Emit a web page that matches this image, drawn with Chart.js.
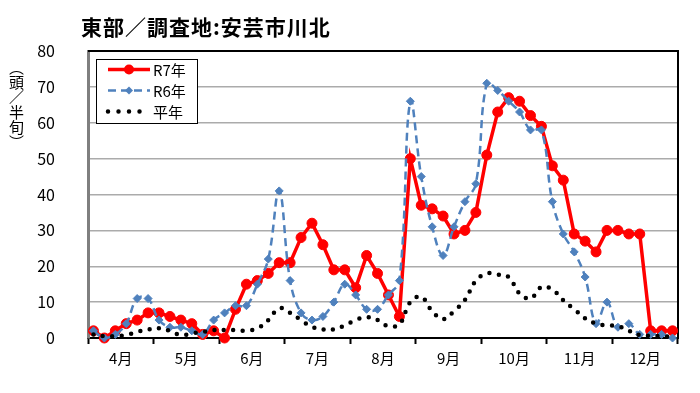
<!DOCTYPE html>
<html lang="ja">
<head>
<meta charset="utf-8">
<script src="https://cdn.jsdelivr.net/npm/chart.js@4/dist/chart.umd.min.js"></script>
<style>
  html, body { margin: 0; padding: 0; background: #fff; }
  #wrap { position: relative; width: 700px; height: 393px; overflow: hidden; }
  #title {
    position: absolute; left: 81px; top: 11px; letter-spacing: 1px;
    font: bold 21px "Noto Sans CJK JP", sans-serif; color: #000; white-space: nowrap;
  }
  #ylab {
    position: absolute; left: 6px; top: 60px;
    writing-mode: vertical-rl; font: 15px "Noto Sans CJK JP", sans-serif; color: #000;
  }
  canvas { position: absolute; left: 0; top: 0; }
</style>
</head>
<body>
<div id="wrap">
  <canvas id="chart" width="700" height="393"></canvas>
  <div id="title">東部／調査地:安芸市川北</div>
  <div id="ylab">（頭／半旬）</div>
</div>
<script>
"use strict"

// 4月〜12月, 1ヶ月6半旬
var months = ['4月', '5月', '6月', '7月', '8月', '9月', '10月', '11月', '12月']
var halves = [1, 2, 3, 4, 5, 6]
var seriesNames = ['R7年', 'R6年', '平年']

var r7Values = [2, 0, 2, 4, 5, 7, 7, 6, 5, 4, 1, 2,
    0, 8, 15, 16, 18, 21, 21, 28, 32, 26, 19, 19,
    14, 23, 18, 12, 6, 50, 37, 36, 34, 29, 30, 35,
    51, 63, 67, 66, 62, 59, 48, 44, 29, 27, 24, 30,
    30, 29, 29, 2, 2, 2]
var r6Values = [2, 0, 1, 4, 11, 11, 5, 3, 3, 2, 1, 5,
    7, 9, 9, 15, 22, 41, 16, 7, 5, 6, 10, 15,
    12, 8, 8, 12, 16, 66, 45, 31, 23, 31, 38, 43,
    71, 69, 66, 63, 58, 58, 38, 29, 24, 17, 4, 10,
    3, 4, 1, 1, 1, 0]
var avgValues = [1, 0.5, 0.5, 0.8, 1.7, 2.4, 2.7, 2, 0.8, 1.3, 1.7, 2.2,
    2.2, 2.2, 2, 2.7, 5, 8.3, 7, 5, 3.1, 2.4, 2.4, 3.5,
    5, 5.8, 5, 3.3, 3.8, 10, 11.5, 7.5, 5.3, 7.5, 10.6, 16,
    18, 17.7, 17, 12.4, 11, 14.2, 13.5, 10.5, 8, 5.5, 4, 3.5,
    3.3, 2, 0.8, 0.6, 0.5, 0.4]

var categories = []
months.forEach(function (m) {
    halves.forEach(function (h) { categories.push(m + h) })
})

var font = '"Noto Sans CJK JP", "Liberation Sans", sans-serif'

// plot area frame (top / right)
var frame = {
    id: 'frame',
    beforeDatasetsDraw: function (chart) {
        var ctx = chart.ctx, a = chart.chartArea
        ctx.save()
        ctx.strokeStyle = '#000'
        ctx.lineWidth = 2
        ctx.beginPath()
        ctx.moveTo(a.left, a.top)
        ctx.lineTo(a.right, a.top)
        ctx.lineTo(a.right, a.bottom)
        ctx.stroke()
        ctx.restore()
    }
}

// legend box like the original
var legendBox = {
    id: 'legendBox',
    afterDraw: function (chart) {
        var ctx = chart.ctx
        var x0 = 96, y0 = 59, w = 101, h = 64
        ctx.save()
        ctx.fillStyle = '#fff'
        ctx.fillRect(x0, y0, w, h)
        ctx.strokeStyle = '#000'
        ctx.lineWidth = 1
        ctx.strokeRect(x0 + 0.5, y0 + 0.5, w, h)
        var rows = [69.5, 90.5, 111.5]
        chart.data.datasets.forEach(function (ds, i) {
            var y = rows[i]
            ctx.save()
            ctx.strokeStyle = ds.borderColor
            ctx.lineWidth = ds.borderWidth
            ctx.lineCap = ds.borderCapStyle || 'butt'
            ctx.setLineDash(i === 2 ? [0, 10.5] : (ds.borderDash || []))
            ctx.beginPath()
            ctx.moveTo(108, y)
            ctx.lineTo(150, y)
            ctx.stroke()
            ctx.setLineDash([])
            ctx.fillStyle = ds.pointBackgroundColor
            if (ds.pointStyle === 'circle' && ds.pointRadius > 0) {
                ctx.beginPath()
                ctx.arc(129, y, ds.pointRadius, 0, Math.PI * 2)
                ctx.fill()
            } else if (ds.pointStyle === 'rectRot' && ds.pointRadius > 0) {
                var r = ds.pointRadius
                ctx.beginPath()
                ctx.moveTo(129, y - r)
                ctx.lineTo(129 + r, y)
                ctx.lineTo(129, y + r)
                ctx.lineTo(129 - r, y)
                ctx.closePath()
                ctx.fill()
            }
            ctx.restore()
            ctx.fillStyle = '#000'
            ctx.font = '15px ' + font
            ctx.textBaseline = 'middle'
            ctx.fillText(ds.label, 153, y + 1)
        })
        ctx.restore()
    }
}

var ctx = document.getElementById('chart').getContext('2d')
var chart = new Chart(ctx, {
    type: 'line',
    data: {
        labels: categories,
        datasets: [{
            label: seriesNames[0],
            data: r7Values,
            borderColor: '#ff0000',
            backgroundColor: '#ff0000',
            borderWidth: 3.5,
            pointStyle: 'circle',
            pointRadius: 5,
            pointBackgroundColor: '#ff0000',
            pointBorderColor: '#ff0000',
            pointBorderWidth: 1,
            tension: 0,
            clip: 12,
            order: 3
        }, {
            label: seriesNames[1],
            data: r6Values,
            borderColor: '#4f81bd',
            backgroundColor: '#4f81bd',
            borderWidth: 2.5,
            borderDash: [8, 5],
            pointStyle: 'rectRot',
            pointRadius: 4,
            pointBackgroundColor: '#4f81bd',
            pointBorderColor: '#4f81bd',
            pointBorderWidth: 1,
            tension: 0.4,
            clip: 12,
            order: 2
        }, {
            label: seriesNames[2],
            data: avgValues,
            borderColor: '#000',
            backgroundColor: '#000',
            borderWidth: 4.5,
            borderDash: [0, 9.5],
            borderCapStyle: 'round',
            pointRadius: 0,
            pointBackgroundColor: '#000',
            tension: 0.4,
            clip: 12,
            order: 1
        }]
    },
    options: {
        responsive: false,
        animation: false,
        events: [],
        layout: { padding: { left: 0, top: 51, right: 22, bottom: 0 } },
        plugins: {
            legend: { display: false },
            tooltip: { enabled: false },
            title: { display: false }
        },
        scales: {
            x: {
                type: 'category',
                offset: true,
                display: false
            },
            xm: {
                type: 'category',
                labels: months,
                position: 'bottom',
                offset: true,
                grid: {
                    offset: true,
                    drawOnChartArea: false,
                    drawTicks: true,
                    tickLength: 6,
                    tickWidth: 2,
                    tickColor: '#000'
                },
                border: { color: '#000', width: 2 },
                ticks: {
                    color: '#000',
                    font: { family: font, size: 15 },
                    padding: 5,
                    maxRotation: 0,
                    autoSkip: false
                },
                afterFit: function (scale) { scale.height = 55 }
            },
            y: {
                min: 0,
                max: 80,
                ticks: {
                    stepSize: 10,
                    color: '#000',
                    font: { family: font, size: 16 },
                    padding: 33
                },
                grid: {
                    color: '#ababab',
                    lineWidth: 1.5,
                    drawTicks: false
                },
                border: { color: '#7f7f7f', width: 3 },
                afterFit: function (scale) { scale.width = 88 }
            }
        }
    },
    plugins: [frame, legendBox]
})
</script>
</body>
</html>
